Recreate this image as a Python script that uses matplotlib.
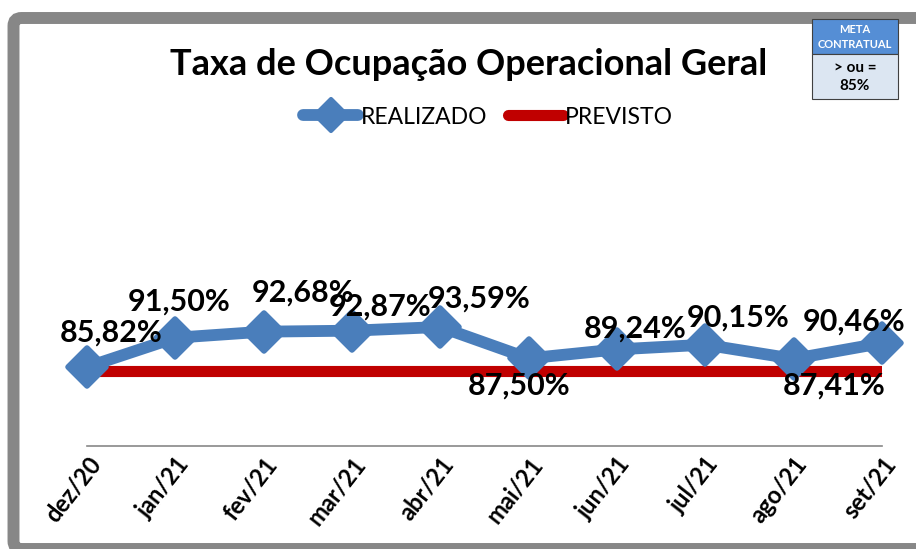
import numpy as np
import matplotlib; matplotlib.use("Agg")
import matplotlib.pyplot as plt
from matplotlib.patches import FancyBboxPatch, Rectangle
from matplotlib.lines import Line2D
from matplotlib.markers import MarkerStyle

plt.rcParams['font.family'] = ['Lato', 'DejaVu Sans']

meses = ["dez/20", "jan/21", "fev/21", "mar/21", "abr/21", "mai/21",
         "jun/21", "jul/21", "ago/21", "set/21"]
realizado = [85.82, 91.50, 92.68, 92.87, 93.59, 87.50, 89.24, 90.15, 87.41, 90.46]
previsto = [85, 85, 85, 85, 85, 85, 85, 85, 85, 85]

BLUE = "#4a7ebb"; RED = "#c00000"; GREY = "#878787"

W, H = 916, 549
fig = plt.figure(figsize=(W/100, H/100), dpi=100)
fig.patch.set_facecolor("white")

# moldura cinza arredondada (sai pela direita/baixo)
fig.patches.append(FancyBboxPatch((13.5/100, 0.0), 9.6, (H-18)/100,
                                  boxstyle="round,pad=0,rounding_size=0.08",
                                  transform=fig.dpi_scale_trans, fc="none",
                                  ec=GREY, lw=8.6, zorder=0))

ax = fig.add_axes([87/W, 1-446/H, 795/W, (446-150)/H])
ax.set_facecolor("none")
x = np.arange(len(meses))
dia = MarkerStyle('D', joinstyle='round')
ax.plot(x, previsto, color=RED, lw=8, solid_capstyle='butt', zorder=2)
ax.plot(x, realizado, color=BLUE, lw=8.5, marker=dia, ms=19, mfc=BLUE, mec=BLUE,
        mew=4, solid_joinstyle='round', zorder=3, clip_on=False)

# rótulos de dados (deslocamento em pixels, como no original)
offs = [(24, 34), (4, 36), (39, 39), (28, 24), (39, 28), (-10, -27),
        (18, 21), (33, 27), (40, -27), (-28, 21)]
for xi, v, (dx, dy) in zip(x, realizado, offs):
    ax.annotate(f"{v:.2f}%".replace(".", ","), (xi, v), xytext=(dx, dy),
                textcoords='offset pixels', ha='center', va='center',
                fontsize=22, fontweight='bold', color='black', zorder=5)

ax.set_xlim(0, 9)
ax.set_ylim(70.48, 127.95)
ax.set_yticks([])
ax.set_xticks(x)
ax.set_xticklabels(meses, rotation=52, ha='right', va='top', rotation_mode='anchor',
                   fontsize=17, fontweight='bold')
ax.tick_params(axis='x', length=0, pad=5)
for s in ['left', 'right', 'top']:
    ax.spines[s].set_visible(False)
ax.spines['bottom'].set_color(GREY)
ax.spines['bottom'].set_linewidth(1.2)

fig.text(469/W, 1-64/H, "Taxa de Ocupação Operacional Geral", ha='center', va='center',
         fontsize=26, fontweight='bold')

h1 = Line2D([], [], color=BLUE, lw=8.5, marker=dia, ms=16, mew=3, mec=BLUE,
            solid_capstyle='round')
h2 = Line2D([], [], color=RED, lw=8, solid_capstyle='round')
fig.legend([h1, h2], ["REALIZADO", "PREVISTO"], loc='center', ncol=2,
           bbox_to_anchor=(488/W, 1-117/H), frameon=False, fontsize=16.5,
           handlelength=2.4, handletextpad=0.1, columnspacing=0.9)

# caixa META CONTRATUAL
px = fig.dpi_scale_trans
fig.patches.append(Rectangle((812/100, (H-54)/100), 86/100, 35/100, transform=px,
                             fc="#558ed5", ec="#404040", lw=0.8, zorder=3))
fig.patches.append(Rectangle((812/100, (H-99)/100), 86/100, 45/100, transform=px,
                             fc="#dce6f2", ec="#404040", lw=0.8, zorder=3))
fig.text(855/W, 1-37/H, "META\nCONTRATUAL", ha='center', va='center', color='white',
         fontsize=8, fontweight='bold', linespacing=1.4, zorder=4)
fig.text(855/W, 1-77/H, "> ou =\n85%", ha='center', va='center', color='black',
         fontsize=11, fontweight='bold', linespacing=1.35, zorder=4)

fig.savefig("out.png", dpi=100, facecolor="white")
